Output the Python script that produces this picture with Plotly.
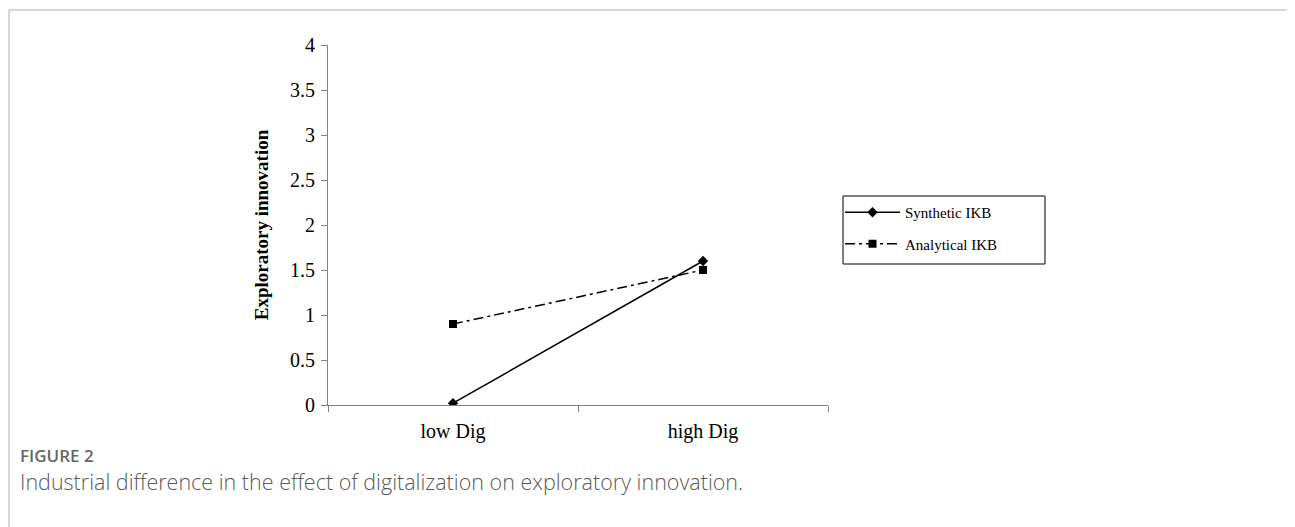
import plotly.graph_objects as go

categories = ["low Dig", "high Dig"]
synthetic_ikb = [0.02, 1.6]
analytical_ikb = [0.9, 1.5]
y_ticks = [0, 0.5, 1, 1.5, 2, 2.5, 3, 3.5, 4]
y_tick_labels = ["0", "0.5", "1", "1.5", "2", "2.5", "3", "3.5", "4"]

OFF = 8  # page body margin
W, H = 1295 - OFF, 527 - OFF
L, R, T, B = 328 - OFF, 828 - OFF, 45 - OFF, 405 - OFF  # plot area in figure px


def px_x(p):
    return (p - OFF - L) / (R - L)


def px_y(p):
    return (B - (p - OFF)) / (B - T)


serif = "Liberation Serif"
fig = go.Figure()
fig.add_trace(go.Scatter(
    x=categories, y=synthetic_ikb, name="Synthetic IKB", mode="lines+markers",
    legendgroup="a",
    line=dict(color="black", width=1.5),
    marker=dict(symbol="diamond", size=8, color="black"),
))
fig.add_trace(go.Scatter(
    x=categories, y=analytical_ikb, name="Analytical IKB", mode="lines+markers",
    legendgroup="b",
    line=dict(color="black", width=1.5, dash="10px,4px,3px,4px"),
    marker=dict(symbol="square", size=8, color="black"),
))

fig.update_layout(
    width=W, height=H,
    margin=dict(l=L, r=W - R, t=T, b=H - B, pad=0),
    paper_bgcolor="white", plot_bgcolor="white",
    showlegend=True,
    legend=dict(
        x=px_x(840), y=px_y(196), xanchor="left", yanchor="top",
        borderwidth=0, bgcolor="rgba(0,0,0,0)",
        font=dict(family=serif, size=15, color="black"),
        tracegroupgap=9, itemwidth=55,
    ),
    font=dict(family=serif, color="black"),
)
fig.update_xaxes(
    type="category", range=[-0.5, 1.5],
    showline=True, linecolor="#808080", linewidth=1,
    ticks="outside", tickson="boundaries", ticklen=6, tickcolor="#808080",
    showgrid=False, zeroline=False, ticklabelstandoff=8,
    tickfont=dict(family=serif, size=20, color="black"),
)
fig.update_yaxes(
    range=[0, 4], tickvals=y_ticks, ticktext=y_tick_labels,
    showline=True, linecolor="#808080", linewidth=1,
    ticks="outside", ticklen=6, tickcolor="#808080",
    showgrid=False, zeroline=False, ticklabelstandoff=2,
    tickfont=dict(family=serif, size=20, color="black"),
    title=dict(text="<b>Exploratory innovation</b>", standoff=16,
               font=dict(family=serif, size=19, color="black")),
)

# legend box
fig.add_shape(type="rect", xref="paper", yref="paper",
              x0=px_x(843), x1=px_x(1045), y0=px_y(196), y1=px_y(264),
              line=dict(color="black", width=1), fillcolor="rgba(0,0,0,0)")

# outer frame
frame_color = "#c8c8c8"
fig.add_shape(type="line", xref="paper", yref="paper",
              x0=px_x(9), x1=px_x(9), y0=px_y(10), y1=px_y(540),
              line=dict(color=frame_color, width=1.5))
fig.add_shape(type="line", xref="paper", yref="paper",
              x0=px_x(9), x1=px_x(1294), y0=px_y(10), y1=px_y(10),
              line=dict(color=frame_color, width=1.5))
fig.add_shape(type="line", xref="paper", yref="paper",
              x0=px_x(1293.5), x1=px_x(1293.5), y0=px_y(10), y1=px_y(540),
              line=dict(color=frame_color, width=1.5))

fig.add_annotation(xref="paper", yref="paper", x=px_x(18), y=px_y(455),
                   xanchor="left", yanchor="middle", showarrow=False,
                   text="FIGURE 2",
                   font=dict(family="Open Sans", size=17, color="#666666", weight=600))
fig.add_annotation(xref="paper", yref="paper", x=px_x(18), y=px_y(482),
                   xanchor="left", yanchor="middle", showarrow=False,
                   text="Industrial difference in the effect of digitalization on exploratory innovation.",
                   font=dict(family="Open Sans", size=21.5, color="#5a5a5a", weight=300))

fig.write_html("out.html")
